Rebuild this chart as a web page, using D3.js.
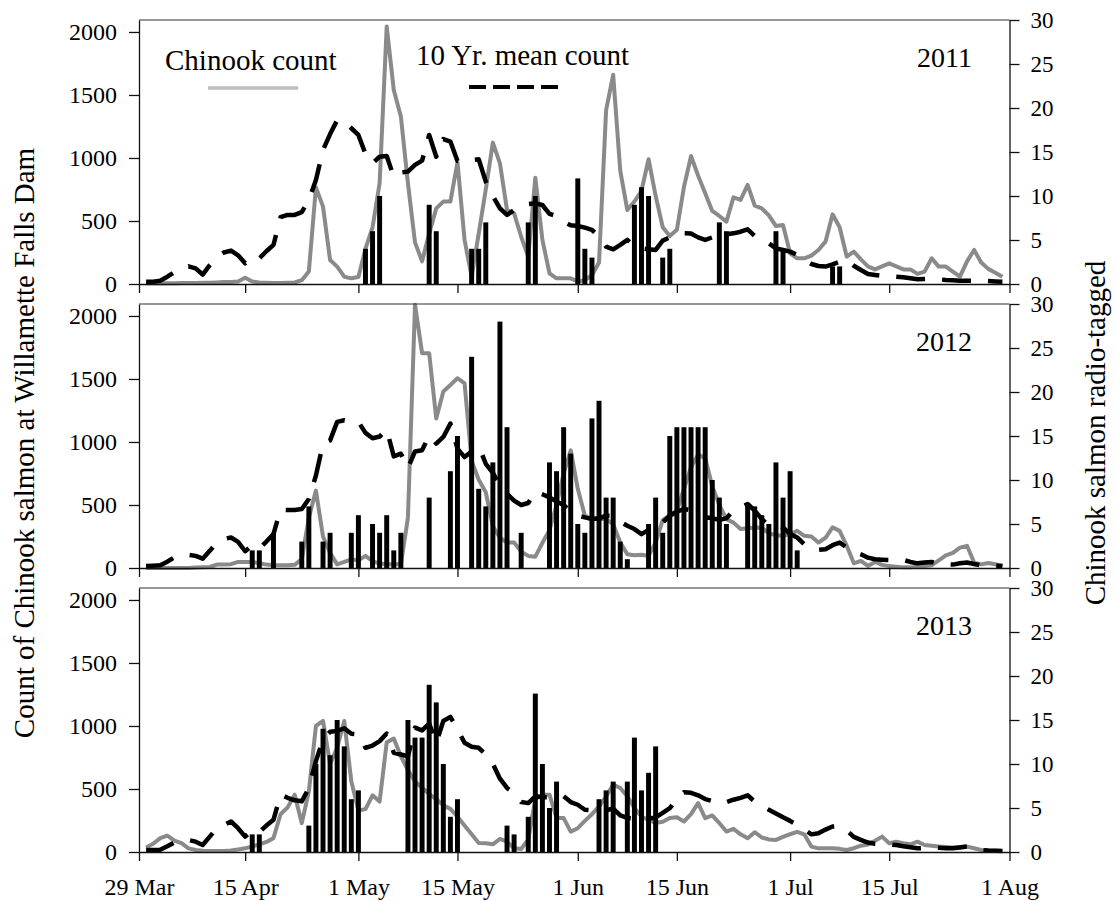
<!DOCTYPE html>
<html>
<head>
<meta charset="utf-8">
<script src="https://cdn.jsdelivr.net/npm/d3@7"></script>
<style>
  body { margin: 0; background: #fff; }
  svg { display: block; }
  text { font-family: "Liberation Serif", "Times New Roman", serif; fill: #000; }
</style>
</head>
<body>
<svg id="chart" width="1116" height="901"></svg>
<script>
// Day index 0 = 1 April; the axis runs to 1 August.
const tickDays   = [-1, 14, 30, 44, 61, 75, 91, 105, 122];
const tickLabels = ['29 Mar', '15 Apr', '1 May', '15 May', '1 Jun', '15 Jun', '1 Jul', '15 Jul', '1 Aug'];
const countTicks = [0, 500, 1000, 1500, 2000];
const tagTicks   = [0, 5, 10, 15, 20, 25, 30];
const years      = ['2011', '2012', '2013'];

// Daily Chinook counts at Willamette Falls (1 Apr - 31 Jul)
const count2011 = [
  5,5,5,5,5,8,8,8,10,10,
  12,15,15,20,50,20,12,10,8,8,
  10,12,30,100,767,614,190,138,58,45,
  55,280,450,800,2043,1540,1330,800,330,180,
  400,600,654,654,966,350,58,400,750,1122,
  958,587,561,375,217,844,350,85,45,45,
  45,20,30,70,170,1380,1660,900,587,654,
  740,990,700,450,380,430,770,1016,860,720,
  580,540,495,688,667,786,622,600,545,460,
  468,243,204,204,225,270,336,553,450,217,
  257,195,140,116,140,164,140,116,116,80,
  98,204,138,138,98,58,180,270,170,120,
  90,58
];
const count2012 = [
  0,0,0,0,0,0,0,3,5,8,
  27,27,30,48,48,48,37,27,21,21,
  21,25,70,400,614,250,120,29,48,69,
  60,96,55,35,29,29,29,400,2090,1705,
  1705,1186,1400,1452,1506,1466,850,700,601,330,
  240,202,202,130,96,90,200,300,500,750,
  934,628,415,390,388,388,348,202,109,101,
  105,96,202,380,420,455,628,800,900,870,
  650,500,388,360,309,315,322,320,275,260,
  255,269,295,255,250,202,240,322,295,176,
  37,56,16,48,25,15,10,5,5,11,
  15,21,60,100,120,162,176,43,29,40,
  30,16
];
const count2013 = [
  35,65,110,130,90,70,29,16,10,8,
  8,8,12,20,29,45,60,80,110,300,
  354,455,229,480,1000,1040,700,827,1040,561,
  330,340,450,400,870,900,760,650,560,510,
  460,420,370,342,280,210,140,72,70,61,
  104,82,29,24,100,420,455,455,269,269,
  162,189,247,300,360,440,535,508,442,350,
  280,255,230,240,270,275,242,300,388,269,
  290,230,162,184,140,109,157,115,100,96,
  120,141,160,140,43,29,29,29,25,16,
  30,50,60,90,122,69,82,70,61,82,
  56,50,43,40,35,40,43,30,16,12,
  10,8
];

// Ten-year mean daily counts
const mean2011 = [
  18,18,26,58,93,120,140,124,75,150,
  214,250,265,228,164,217,204,260,310,530,
  548,548,570,667,825,1064,1190,1300,1289,1236,
  1183,1032,958,1010,1016,850,884,892,945,979,
  1183,1010,1150,1130,976,970,984,990,812,698,
  600,548,587,614,635,640,627,556,540,495,
  466,460,447,430,376,296,275,310,350,302,
  283,275,270,344,370,389,402,400,370,350,
  370,375,394,402,415,434,381,350,323,283,
  270,257,230,190,159,143,138,156,177,190,
  145,111,79,71,64,61,57,53,45,37,
  40,42,37,32,29,26,26,26,26,23,
  20,18
];
const mean2012 = [
  16,18,21,50,85,100,105,96,74,136,
  202,230,242,207,133,178,154,210,269,463,
  460,460,468,548,734,987,1013,1160,1173,1165,
  1160,1072,1030,1043,1100,886,907,793,925,934,
  1053,987,1040,1146,947,880,925,968,827,755,
  654,588,535,500,516,606,585,561,527,500,
  447,415,402,388,394,415,415,367,335,309,
  269,303,319,362,415,447,468,458,434,402,
  394,383,394,458,481,508,455,388,335,335,
  322,269,242,189,149,144,149,181,202,162,
  128,109,82,69,66,64,64,64,48,37,
  43,48,37,29,27,37,43,32,21,21,
  19,16
];
const mean2013 = [
  16,16,18,45,75,88,95,82,56,122,
  189,215,242,189,122,173,157,210,255,455,
  430,410,402,508,721,894,955,960,982,939,
  934,827,845,880,940,787,774,760,987,965,
  1019,867,1040,1072,973,867,835,827,774,700,
  582,508,468,396,388,442,434,434,442,442,
  396,375,335,330,340,330,345,290,270,265,
  255,265,274,310,348,420,475,470,450,420,
  405,385,395,415,430,450,400,365,335,305,
  275,247,215,180,140,149,178,202,206,170,
  120,96,75,66,63,61,55,45,38,29,
  32,35,33,30,29,36,43,30,16,12,
  10,8
];

// Radio-tagged fish per day: day index and number tagged
const tagDays2011 = [31,32,33,40,41,46,47,48,54,55,61,62,63,69,70,71,73,74,81,82,89,90,97,98];
const tags2011    = [4,6,10,9,6,4,4,7,7,10,12,4,3,9,11,10,3,4,7,6,6,4,2,2];
const tagDays2012 = [15,16,18,22,23,25,26,29,30,32,33,34,35,36,40,43,44,46,47,48,49,50,51,53,
                     57,58,59,60,61,62,63,64,65,66,67,68,71,72,73,74,75,76,77,78,79,80,81,82,
                     85,86,87,88,89,90,91,92];
const tags2012    = [2,2,4,3,7,3,4,4,6,5,4,6,2,4,8,11,15,24,9,7,12,28,16,4,
                     12,11,16,13,5,4,17,19,8,8,3,1,5,8,4,15,16,16,16,16,16,10,8,5,
                     7,7,6,5,12,8,11,2];
const tagDays2013 = [15,16,23,24,25,26,27,28,29,30,37,38,39,40,41,42,43,44,51,52,54,55,56,57,58,
                     64,65,66,68,69,70,71,72];
const tags2013    = [2,2,3,10,14,11,15,12,6,7,15,13,13,19,17,10,4,6,3,2,4,18,10,5,8,
                     6,7,8,8,13,7,9,12];

const panels = [
  { year: years[0], count: count2011, mean: mean2011, tagDays: tagDays2011, tags: tags2011 },
  { year: years[1], count: count2012, mean: mean2012, tagDays: tagDays2012, tags: tags2012 },
  { year: years[2], count: count2013, mean: mean2013, tagDays: tagDays2013, tags: tags2013 }
];

const svg = d3.select('#chart');
const left = 139, right = 1009.5;
const panelTops = [20, 304, 588];
const ph = 264;
const fontTick = 24, fontRight = 23, fontBig = 29;

const x = d3.scaleLinear().domain([-1, 122]).range([left, right]);
const y = d3.scaleLinear().domain([0, 2095]).range([ph, 0]);
const yTag = d3.scaleLinear().domain([0, 30]).range([ph, 0]);

const dayW = x(1) - x(0);
const barW = dayW * 0.7;

function styleAxis(size) {
  return g => {
    g.select('.domain').attr('stroke', '#111').attr('stroke-width', 1.3);
    g.selectAll('.tick line').attr('stroke', '#111').attr('stroke-width', 1.3);
    g.selectAll('.tick text')
      .style('font-family', '"Liberation Serif", "Times New Roman", serif')
      .style('font-size', size + 'px')
      .attr('fill', '#000');
  };
}

panels.forEach((p, i) => {
  const g = svg.append('g').attr('transform', `translate(0,${panelTops[i]})`);

  // daily count (grey) sits under the bars
  g.append('path')
    .datum(p.count)
    .attr('fill', 'none')
    .attr('stroke', '#8a8a8a')
    .attr('stroke-width', 4)
    .attr('stroke-linejoin', 'round')
    .attr('d', d3.line().x((v, k) => x(k)).y(v => y(v)));

  // radio-tagged bars on the right-hand scale
  g.append('g').selectAll('rect')
    .data(p.tagDays.map((d, k) => ({ d, v: p.tags[k] })))
    .join('rect')
    .attr('x', d => x(d.d) - barW / 2)
    .attr('width', barW)
    .attr('y', d => yTag(d.v))
    .attr('height', d => ph - yTag(d.v))
    .attr('fill', '#000');

  // ten-year mean (dashed)
  g.append('path')
    .datum(p.mean)
    .attr('fill', 'none')
    .attr('stroke', '#000')
    .attr('stroke-width', 4.5)
    .attr('stroke-dasharray', '29,17')
    .attr('stroke-linejoin', 'round')
    .attr('d', d3.line().x((v, k) => x(k)).y(v => y(v)));

  // top border
  g.append('line')
    .attr('x1', left).attr('x2', right).attr('y1', 0).attr('y2', 0)
    .attr('stroke', '#333').attr('stroke-width', 1.2);

  // axes
  g.append('g')
    .attr('transform', `translate(${left},0)`)
    .call(d3.axisLeft(y).tickValues(countTicks).tickFormat(d3.format('d'))
      .tickSize(10).tickSizeOuter(0).tickPadding(12))
    .call(styleAxis(fontTick));

  g.append('g')
    .attr('transform', `translate(${right},0)`)
    .call(d3.axisRight(yTag).tickValues(tagTicks).tickFormat(d3.format('d'))
      .tickSize(10).tickSizeOuter(0).tickPadding(11))
    .call(styleAxis(fontRight));

  const xAxis = d3.axisBottom(x).tickValues(tickDays).tickSize(9).tickSizeOuter(0).tickPadding(17)
    .tickFormat((d, k) => i === panels.length - 1 ? tickLabels[k] : '');
  g.append('g')
    .attr('transform', `translate(0,${ph})`)
    .call(xAxis)
    .call(styleAxis(fontTick));

  // year label
  g.append('text')
    .attr('x', 972).attr('y', 47)
    .attr('text-anchor', 'end')
    .style('font-size', '28px')
    .text(p.year);
});

// legend in the top panel
const leg = svg.append('g');
leg.append('text').attr('x', 165).attr('y', 70).style('font-size', fontBig + 'px').text('Chinook count');
leg.append('line').attr('x1', 208).attr('x2', 298).attr('y1', 88).attr('y2', 88)
  .attr('stroke', '#bdbdbd').attr('stroke-width', 3.5);
leg.append('text').attr('x', 416).attr('y', 65).style('font-size', fontBig + 'px').text('10 Yr. mean count');
leg.append('line').attr('x1', 469).attr('x2', 558).attr('y1', 87).attr('y2', 87)
  .attr('stroke', '#000').attr('stroke-width', 4).attr('stroke-dasharray', '17,7');

// axis titles
svg.append('text')
  .attr('transform', 'translate(34,443) rotate(-90)')
  .attr('text-anchor', 'middle')
  .style('font-size', fontBig + 'px')
  .text('Count of Chinook salmon at Willamette Falls Dam');

svg.append('text')
  .attr('transform', 'translate(1105,433) rotate(-90)')
  .attr('text-anchor', 'middle')
  .style('font-size', fontBig + 'px')
  .text('Chinook salmon radio-tagged');
</script>
</body>
</html>
